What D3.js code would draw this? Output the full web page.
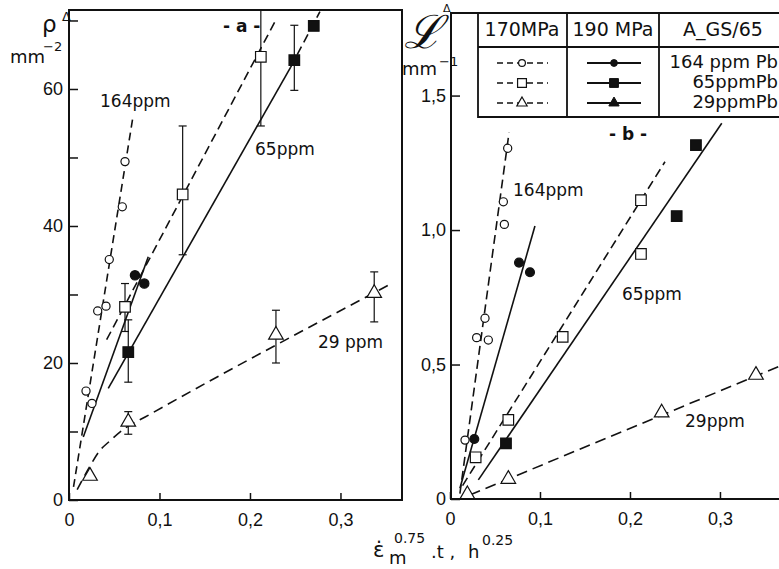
<!DOCTYPE html>
<html>
<head>
<meta charset="utf-8">
<script src="https://cdn.jsdelivr.net/npm/d3@7"></script>
<style>
  body { margin: 0; background: #fff; }
  svg { display: block; font-family: "DejaVu Sans", sans-serif; }
  .tick text { font-family: "Liberation Sans", Arial, sans-serif; font-size: 18px; fill: #111; }
  .tick line { stroke: #111; stroke-width: 1.5; }
</style>
</head>
<body>
<svg id="chart" width="779" height="569"></svg>
<script>
// ---- panel a : rho (mm^-2) ----
const aCirc170 = [[0.0619, 49.4], [0.0589, 42.8], [0.0445, 35.1], [0.0317, 27.6], [0.0409, 28.3], [0.0188, 15.9], [0.0254, 14.1]];
const aCirc190 = [[0.0729, 32.8], [0.0832, 31.6]];
const aSq170 = [[0.212, 64.7], [0.1256, 44.6], [0.0619, 28.2]];
const aSq170Err = [[54.6, 74.8], [35.8, 54.6], [24.6, 31.6]];
const aSq190 = [[0.2705, 69.2], [0.249, 64.2], [0.0655, 21.6]];
const aSq190Err = [null, [59.8, 69.3], [17.2, 26.3]];
const aTri170 = [[0.3373, 30.2], [0.2287, 24.1], [0.0655, 11.4], [0.0232, 3.5]];
const aTri170Err = [[26.0, 33.3], [20.0, 27.7], [9.6, 12.9], null];

// fitted lines, panel a
const aLine164at170 = [[0.005, 1.9], [0.071, 56.2]];
const aLine164at190 = [[0.0158, 9.2], [0.0876, 35.5]];
const aLine65at170 = [[0.0416, 23.4], [0.2295, 70.3]];
const aLine65at190 = [[0.0434, 16.3], [0.245, 63.2]];
const aLine65at190Ext = [[0.245, 63.2], [0.2773, 71.3]];
const aLine29at170 = [[0.009, 1.5], [0.023, 4.9], [0.034, 7.2], [0.045, 8.6], [0.06, 10.3], [0.088, 12.4], [0.355, 31.5]];

// ---- panel b : L (mm^-1) ----
const bCirc170 = [[0.0641, 1.304], [0.0593, 1.105], [0.0604, 1.021], [0.0389, 0.672], [0.0296, 0.600], [0.0426, 0.591], [0.0167, 0.219]];
const bCirc190 = [[0.0767, 0.879], [0.0889, 0.843], [0.027, 0.223]];
const bSq170 = [[0.2122, 1.111], [0.2122, 0.911], [0.1252, 0.603], [0.0648, 0.294], [0.0285, 0.155]];
const bSq190 = [[0.2733, 1.316], [0.2519, 1.052], [0.0622, 0.207]];
const bTri170 = [[0.34, 0.461], [0.2352, 0.321], [0.0648, 0.074], [0.0193, 0.017]];

const bLine164at170 = [[0.011, 0.02], [0.0656, 1.362]];
const bLine164at190 = [[0.011, 0.04], [0.0944, 1.015]];
const bLine65at170 = [[0.014, 0.05], [0.2389, 1.254]];
const bLine65at190 = [[0.0315, 0.071], [0.302, 1.397]];
const bLine29at170 = [[0.022, 0.015], [0.37, 0.499]];

// ticks
const aXTicks = [0, 0.1, 0.2, 0.3];
const aYTicks = [0, 10, 20, 30, 40, 50, 60, 70];
const aYLabelled = [0, 20, 40, 60];
const bXTicks = [0, 0.1, 0.2, 0.3];
const bYTicks = [0, 0.5, 1.0, 1.5];

// legend
const legendHead = ["170MPa", "190 MPa", "A_GS/65"];
const legendRows = ["164 ppm Pb", "65ppmPb", "29ppmPb"];
const legendShapes = ["circle", "square", "triangle"];

const INK = "#111";
const svg = d3.select("#chart");
svg.append("rect").attr("width", 779).attr("height", 569).attr("fill", "#fff");

// SCALES
const ax = d3.scaleLinear().domain([0, 0.368]).range([69, 402]);
const ay = d3.scaleLinear().domain([0, 71.53]).range([500, 10]);
const bx = d3.scaleLinear().domain([0, 0.3656]).range([450, 779]);
const by = d3.scaleLinear().domain([0, 1.807]).range([499, 13]);

const defs = svg.append("defs");
defs.append("clipPath").attr("id", "clipA").append("rect")
  .attr("x", 69).attr("y", 10).attr("width", 333).attr("height", 490);
defs.append("clipPath").attr("id", "clipB").append("rect")
  .attr("x", 450).attr("y", 13).attr("width", 340).attr("height", 486);

const comma = d => d === 0 ? "0" : d3.format(".1f")(d).replace(".", ",");

// AXES panel a
svg.append("g")
  .attr("transform", "translate(0,500)")
  .call(d3.axisBottom(ax).tickValues(aXTicks).tickSizeInner(-7).tickSizeOuter(0).tickPadding(13).tickFormat(comma))
  .call(g => g.select(".domain").remove());
svg.append("g")
  .attr("transform", "translate(69,0)")
  .call(d3.axisLeft(ay).tickValues(aYTicks).tickSizeInner(-9).tickSizeOuter(0).tickPadding(6)
    .tickFormat(d => aYLabelled.includes(d) ? d : ""))
  .call(g => g.select(".domain").remove());

svg.append("rect")
  .attr("x", 69).attr("y", 10).attr("width", 333).attr("height", 490)
  .attr("fill", "none").attr("stroke", INK).attr("stroke-width", 2);

// AXES panel b
svg.append("g")
  .attr("transform", "translate(0,499)")
  .call(d3.axisBottom(bx).tickValues(bXTicks).tickSizeInner(-7).tickSizeOuter(0).tickPadding(13).tickFormat(comma))
  .call(g => g.select(".domain").remove());
svg.append("g")
  .attr("transform", "translate(451,0)")
  .call(d3.axisLeft(by).tickValues(bYTicks).tickSizeInner(-9).tickSizeOuter(0).tickPadding(5).tickFormat(comma))
  .call(g => g.select(".domain").remove());

svg.append("path")
  .attr("d", "M790,13H451V499H790")
  .attr("fill", "none").attr("stroke", INK).attr("stroke-width", 2);

// LINES
function drawLine(g, pts, xs, ys, dash, curve) {
  g.append("path")
    .datum(pts)
    .attr("d", d3.line().x(d => xs(d[0])).y(d => ys(d[1])).curve(curve || d3.curveLinear))
    .attr("fill", "none")
    .attr("stroke", INK)
    .attr("stroke-width", 1.6)
    .attr("stroke-dasharray", dash || null);
}

const symSize = { circle: 52, square: 112, triangle: 66 };
const symType = { circle: d3.symbolCircle, square: d3.symbolSquare, triangle: d3.symbolTriangle };

function drawMarks(g, pts, xs, ys, shape, filled, scale) {
  const k = scale || 1;
  g.selectAll(null)
    .data(pts)
    .enter()
    .append("path")
    .attr("transform", d => `translate(${xs(d[0])},${ys(d[1])})`)
    .attr("d", d3.symbol().type(symType[shape]).size(symSize[shape] * k))
    .attr("fill", filled ? INK : "#fff")
    .attr("stroke", INK)
    .attr("stroke-width", 1.2);
}

function drawErr(g, pts, errs, xs, ys) {
  pts.forEach((p, i) => {
    const e = errs[i];
    if (!e) return;
    const x = xs(p[0]);
    g.append("line").attr("x1", x).attr("x2", x).attr("y1", ys(e[0])).attr("y2", ys(e[1]))
      .attr("stroke", INK).attr("stroke-width", 1.2);
    e.forEach(v => {
      g.append("line").attr("x1", x - 4).attr("x2", x + 4).attr("y1", ys(v)).attr("y2", ys(v))
        .attr("stroke", INK).attr("stroke-width", 1.2);
    });
  });
}

// panel a plot
const ga = svg.append("g").attr("clip-path", "url(#clipA)");
drawLine(ga, aLine164at170, ax, ay, "8,5");
drawLine(ga, aLine164at190, ax, ay);
drawLine(ga, aLine65at170, ax, ay, "9,5");
drawLine(ga, aLine65at190, ax, ay);
drawLine(ga, aLine65at190Ext, ax, ay, "9,5");
drawLine(ga, aLine29at170, ax, ay, "10,6", d3.curveMonotoneX);
drawErr(ga, aSq170, aSq170Err, ax, ay);
drawErr(ga, aSq190, aSq190Err, ax, ay);
drawErr(ga, aTri170, aTri170Err, ax, ay);
drawMarks(ga, aCirc170, ax, ay, "circle", false);
drawMarks(ga, aCirc190, ax, ay, "circle", true, 1.3);
drawMarks(ga, aSq170, ax, ay, "square", false);
drawMarks(ga, aSq190, ax, ay, "square", true);
drawMarks(ga, aTri170, ax, ay, "triangle", false, 1.4);

// panel b plot
const gb = svg.append("g").attr("clip-path", "url(#clipB)");
drawLine(gb, bLine164at170, bx, by, "9,5");
drawLine(gb, bLine164at190, bx, by);
drawLine(gb, bLine65at170, bx, by, "9,5");
drawLine(gb, bLine65at190, bx, by);
drawLine(gb, bLine29at170, bx, by, "11,6");
drawMarks(gb, bCirc170, bx, by, "circle", false);
drawMarks(gb, bCirc190, bx, by, "circle", true, 1.2);
drawMarks(gb, bSq170, bx, by, "square", false);
drawMarks(gb, bSq190, bx, by, "square", true);
drawMarks(gb, bTri170, bx, by, "triangle", false, 1.4);

// LEGEND TABLE
const lg = svg.append("g");
const tbl = "M790,13H478V117H790M478,47H790M567,13V117M659,13V117";
lg.append("path").attr("d", tbl).attr("fill", "none").attr("stroke", INK).attr("stroke-width", 1.8);
const headX = [522, 613, 723];
legendHead.forEach((t, i) => {
  lg.append("text").attr("x", headX[i]).attr("y", 36).attr("text-anchor", "middle")
    .attr("font-size", 19).attr("fill", INK).text(t);
});
const rowY = [63, 83, 103];
legendRows.forEach((t, i) => {
  lg.append("text").attr("x", 778).attr("y", rowY[i] + 5).attr("text-anchor", "end")
    .attr("font-size", 18).attr("fill", INK).text(t);
  const y = rowY[i];
  lg.append("line").attr("x1", 497).attr("x2", 548).attr("y1", y).attr("y2", y)
    .attr("stroke", INK).attr("stroke-width", 1.5).attr("stroke-dasharray", "6,4");
  lg.append("line").attr("x1", 587).attr("x2", 641).attr("y1", y).attr("y2", y)
    .attr("stroke", INK).attr("stroke-width", 1.8);
  const sym = d3.symbol().type(symType[legendShapes[i]]).size(symSize[legendShapes[i]] * 0.7);
  lg.append("path").attr("transform", `translate(522,${y})`).attr("d", sym)
    .attr("fill", "#fff").attr("stroke", INK).attr("stroke-width", 1.2);
  lg.append("path").attr("transform", `translate(614,${y})`).attr("d", sym)
    .attr("fill", INK).attr("stroke", INK).attr("stroke-width", 1);
});

// ANNOTATIONS
function label(x, y, t, size, opts) {
  const el = svg.append("text").attr("x", x).attr("y", y).attr("font-size", size).attr("fill", INK).text(t);
  if (opts) Object.keys(opts).forEach(k => el.attr(k, opts[k]));
  return el;
}
label(100, 107, "164ppm", 17);
label(255, 155, "65ppm", 17);
label(318, 348, "29 ppm", 17);
label(223, 32, "- a -", 17, { "font-weight": "bold" });
label(513, 196, "164ppm", 17);
label(622, 300, "65ppm", 17);
label(685, 427, "29ppm", 17);
label(609, 140, "- b -", 17, { "font-weight": "bold" });

// y label a
label(42, 32, "ρ", 23);
label(62, 21, "Δ", 13);
label(10, 63, "mm", 18);
label(43, 51, "−2", 13);

// y label b
label(404, 48, "ℒ", 46, { "font-family": "DejaVu Serif", "font-style": "italic" });
label(443, 12, "Δ", 11);
label(402, 75, "mm", 18);
label(439, 66, "−1", 13);

// x label
label(373, 557, "ε̇", 21);
label(389, 564, "m", 18);
label(394, 543, "0.75", 14);
label(431, 558, ".t ,", 18);
label(468, 558, "h", 18);
label(482, 545, "0.25", 14);
</script>
</body>
</html>
